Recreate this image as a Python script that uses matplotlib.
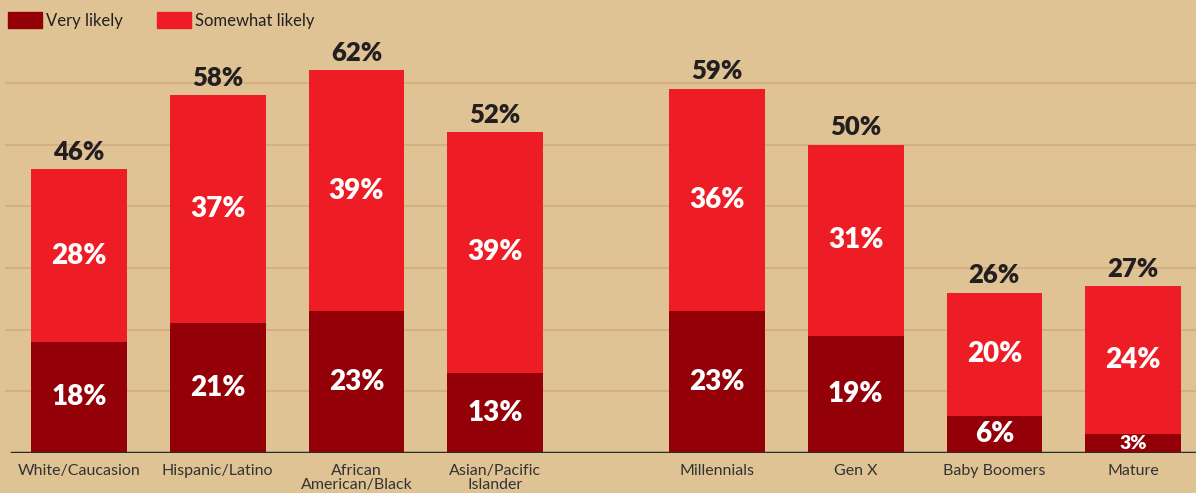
import matplotlib.pyplot as plt
from matplotlib.patches import Rectangle

# datos de la encuesta
categorias = ["White/Caucasion", "Hispanic/Latino", "African\nAmerican/Black",
              "Asian/Pacific\nIslander", "Millennials", "Gen X", "Baby Boomers", "Mature"]
muy_probable = [18, 21, 23, 13, 23, 19, 6, 3]
algo_probable = [28, 37, 39, 39, 36, 31, 20, 24]
totales = [46, 58, 62, 52, 59, 50, 26, 27]

FONDO = "#DFC395"
ROJO_OSCURO = "#930008"
ROJO = "#EE1C25"
TEXTO = "#231F20"

plt.rcParams["font.family"] = ["Lato", "DejaVu Sans"]

fig = plt.figure(figsize=(11.96, 4.93), dpi=100, facecolor=FONDO)
ax = fig.add_axes([5 / 1196, 40 / 493, 1191 / 1196, 70 * 6.17 / 493])
ax.set_facecolor(FONDO)

# dos grupos separados por un hueco
x = [i if i < 4 else i + 0.6 for i in range(len(categorias))]
ancho = 0.69

for y in range(10, 70, 10):
    ax.axhline(y, color="#D2AC7E", lw=1.2, zorder=0)

ax.bar(x, muy_probable, width=ancho, color=ROJO_OSCURO, zorder=2)
ax.bar(x, algo_probable, width=ancho, bottom=muy_probable, color=ROJO, zorder=2)

for xi, a, b, t in zip(x, muy_probable, algo_probable, totales):
    tam = 20 if a >= 5 else 14
    ax.text(xi, a / 2, f"{a}%", ha="center", va="center", color="white",
            fontsize=tam, fontweight="heavy", zorder=3)
    ax.text(xi, a + b / 2, f"{b}%", ha="center", va="center", color="white",
            fontsize=20, fontweight="heavy", zorder=3)
    ax.annotate(f"{t}%", (xi, a + b), xytext=(0, 4), textcoords="offset points",
                ha="center", va="bottom", color=TEXTO, fontsize=18.5, fontweight="heavy")

ax.set_xlim(-0.534, 8.054)
ax.set_ylim(0, 70)
ax.axhline(0, xmin=7 / 1191, xmax=1, color="#2B2B2B", lw=2.5, zorder=4)

ax.set_xticks(x)
ax.set_xticklabels(categorias, fontsize=11.5, color="#333333", linespacing=0.95)
ax.tick_params(axis="x", length=0, pad=8)
ax.set_yticks([])
for s in ax.spines.values():
    s.set_visible(False)

# leyenda
for px, texto, color in [(8, "Very likely", ROJO_OSCURO), (157, "Somewhat likely", ROJO)]:
    fig.patches.append(Rectangle((px / 1196, 1 - 28 / 493), 34 / 1196, 16 / 493,
                                 transform=fig.transFigure, color=color))
    fig.text((px + 38) / 1196, 1 - 21 / 493, texto, fontsize=12, color=TEXTO,
             va="center", ha="left")

fig.savefig("out.png", dpi=100, facecolor=FONDO)
